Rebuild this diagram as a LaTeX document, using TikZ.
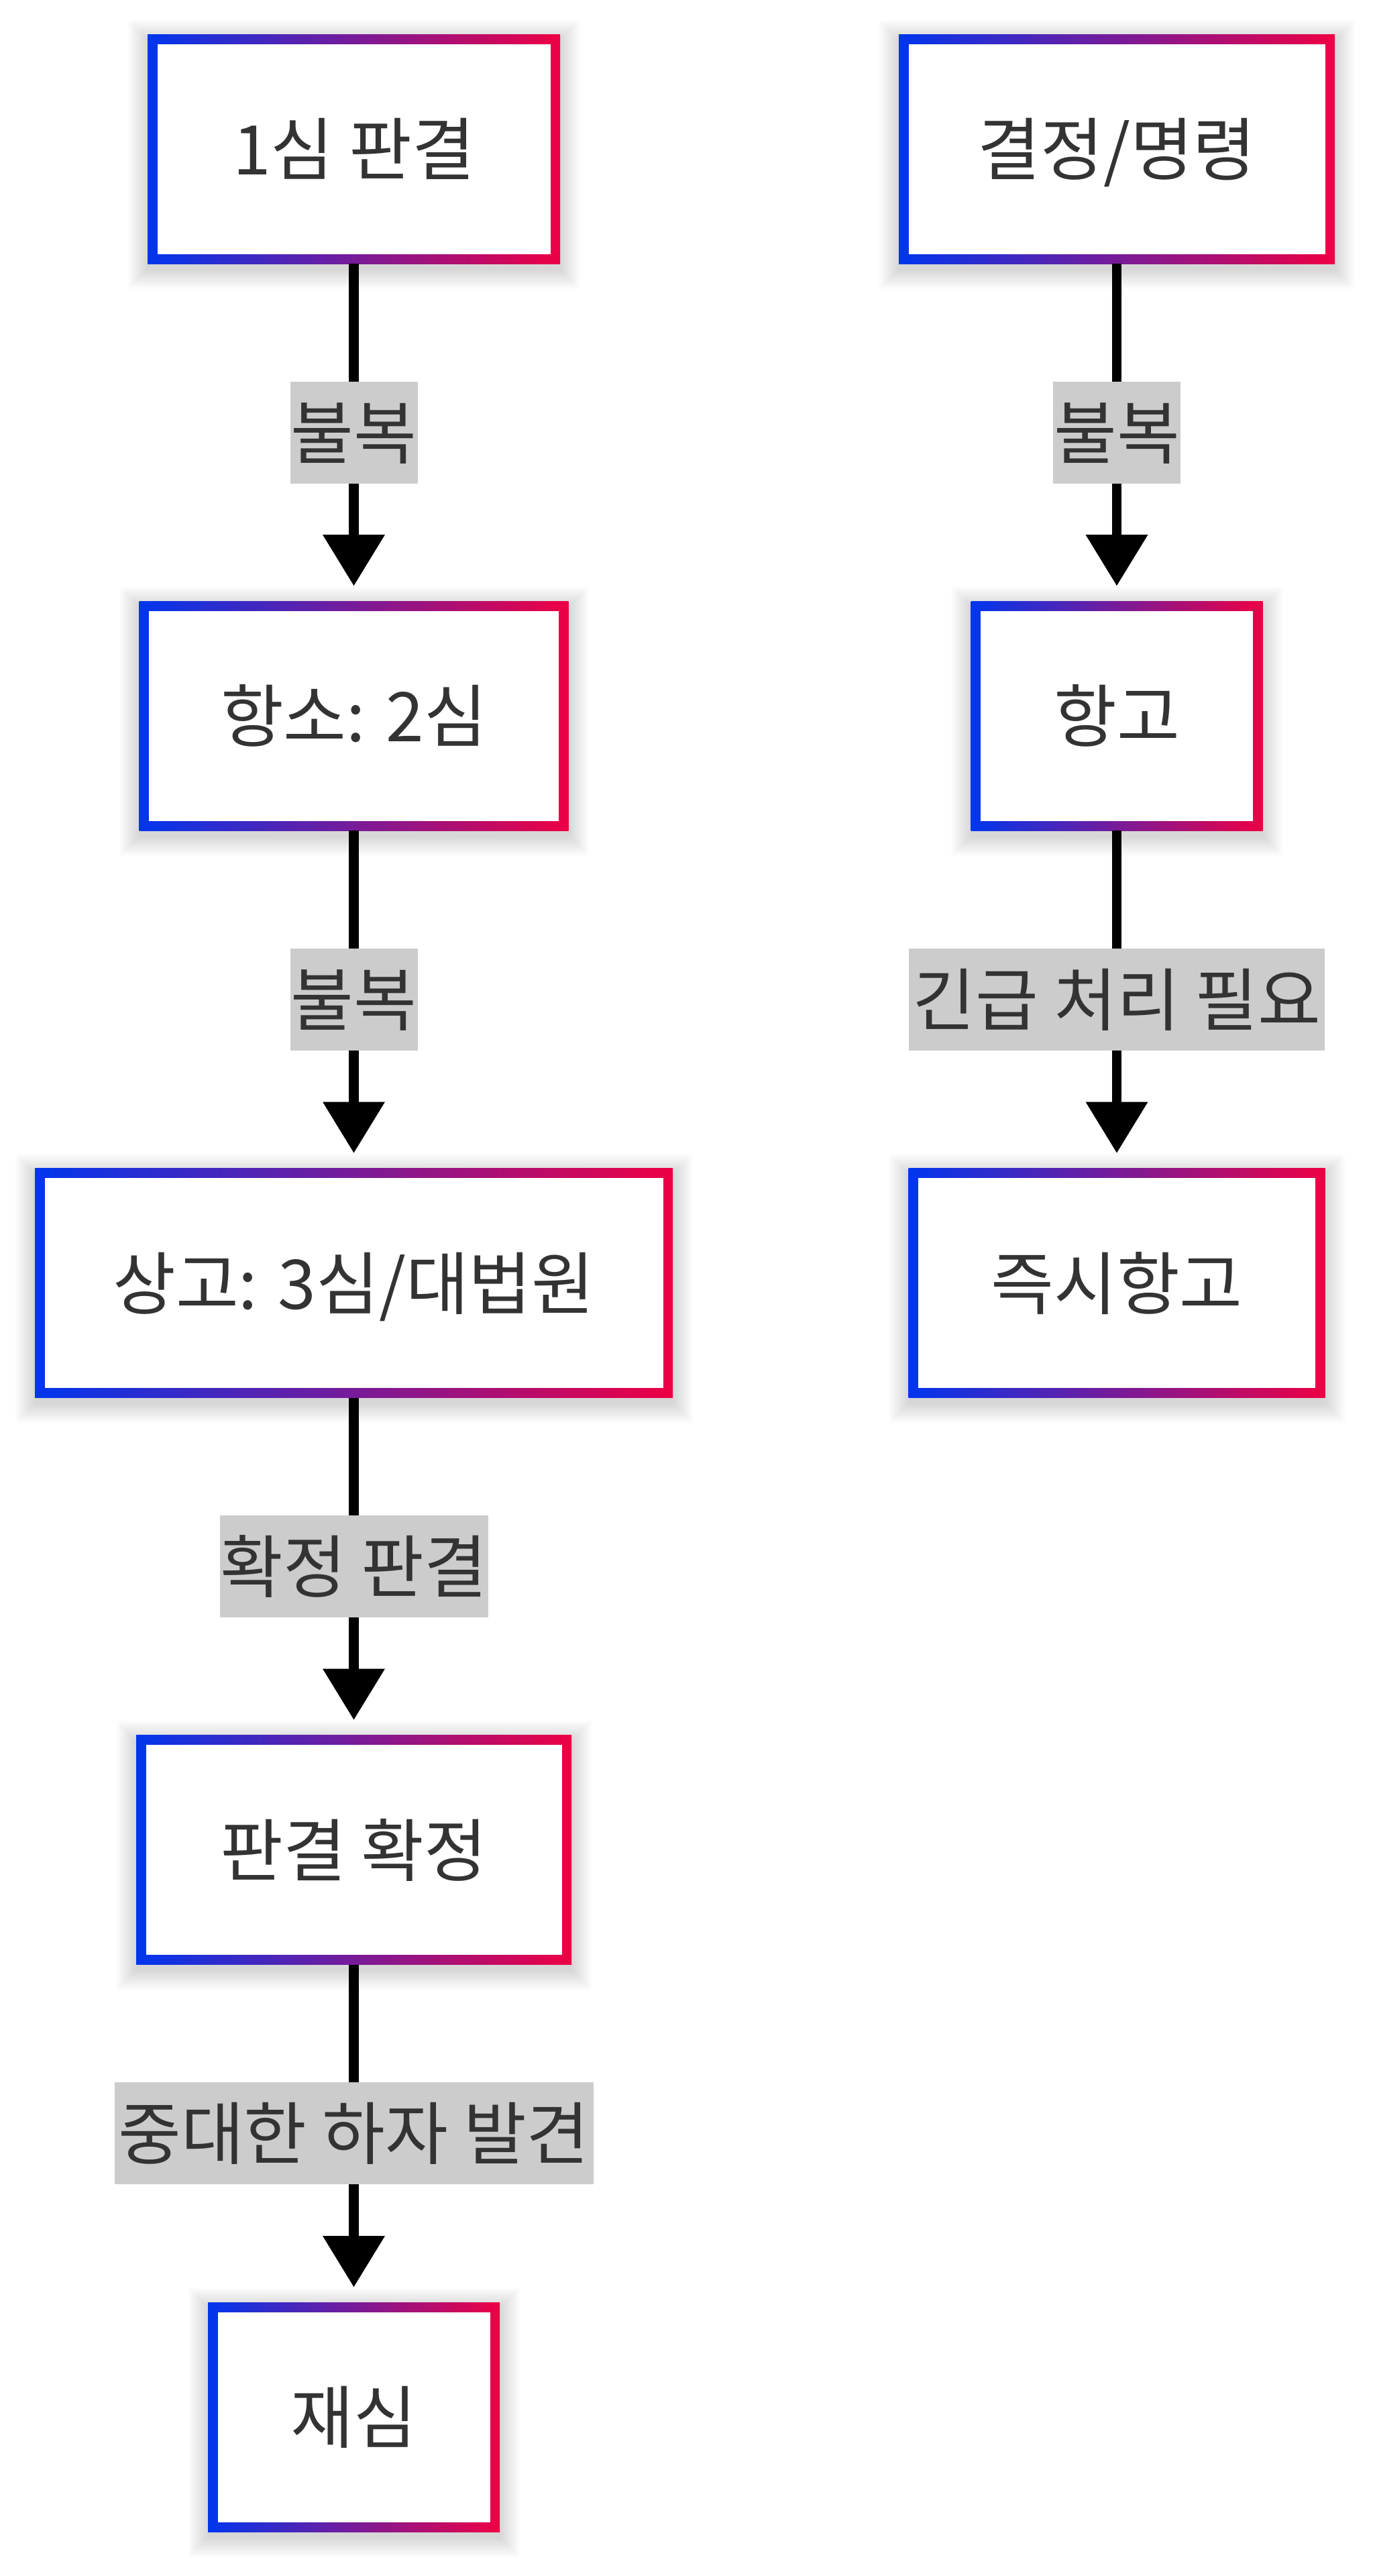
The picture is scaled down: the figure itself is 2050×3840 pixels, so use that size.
\documentclass[tikz,border=0pt]{standalone}
\usepackage{fontspec}
\newfontfamily\kr{Noto Sans CJK KR}
\usetikzlibrary{arrows.meta,backgrounds}
\definecolor{cblue}{RGB}{0,54,238}
\definecolor{cred}{RGB}{238,0,68}
\definecolor{txt}{HTML}{333333}
\definecolor{lblgray}{HTML}{CCCCCC}
\tikzset{
  gbox/.style={minimum width=#1, minimum height=171pt, inner sep=0pt, outer sep=0pt,
    font=\kr\fontsize{51pt}{61pt}\selectfont, text=txt, text height=41.5pt, text depth=3pt,
    path picture={
      \shade[left color=cblue, right color=cred] (path picture bounding box.south west) rectangle (path picture bounding box.north east);
      \fill[white] ([xshift=7.25pt,yshift=7.25pt]path picture bounding box.south west) rectangle ([xshift=-7.25pt,yshift=-7.25pt]path picture bounding box.north east);
    }},
  lbl/.style={fill=lblgray, minimum width=#1, minimum height=76pt, inner xsep=0pt, inner ysep=0pt,
    font=\kr\fontsize{51pt}{61pt}\selectfont, text=txt, text height=41.5pt, text depth=3pt},
  arr/.style={draw=black, line width=7.25pt, -{Triangle[width=46.5pt,length=38pt,line width=0pt]}, shorten >=11.5pt},
}
\begin{document}
\begin{tikzpicture}[x=0.5pt,y=-0.5pt]
\useasboundingbox (0,0) rectangle (2050,3840);
% boxes
\node[gbox=307.5pt] (b1) at (527.5,222) {1심 판결};
\node[gbox=325pt]   (b2) at (1665,222) {결정/명령};
\node[gbox=320pt]   (b3) at (527.5,1067) {항소: 2심};
\node[gbox=217.5pt] (b4) at (1665,1067) {항고};
\node[gbox=475.5pt] (b5) at (527.5,1912.5) {상고: 3심/대법원};
\node[gbox=310.5pt] (b6) at (1665,1912.5) {즉시항고};
\node[gbox=324.5pt] (b7) at (527.5,2757.5) {판결 확정};
\node[gbox=217.5pt] (b8) at (527.5,3603) {재심};
% connectors
\draw[arr] (b1) -- node[lbl=95pt] (l1) {불복} (b3);
\draw[arr] (b3) -- node[lbl=95pt] (l2) {불복} (b5);
\draw[arr] (b5) -- node[lbl=200pt] (l3) {확정 판결} (b7);
\draw[arr] (b7) -- node[lbl=357pt] (l4) {중대한 하자 발견} (b8);
\draw[arr] (b2) -- node[lbl=95pt] (l5) {불복} (b4);
\draw[arr] (b4) -- node[lbl=310pt] (l6) {긴급 처리 필요} (b6);
% background and soft shadows
\begin{scope}[on background layer]
\fill[white] (0,0) rectangle (2050,3840);
\foreach \n in {b1,b2,b3,b4,b5,b6,b7,b8}{
  \foreach \i in {1,...,20}{
    \fill[black, opacity=0.007] ([shift={(-\i*0.75pt,-\i*0.75pt-4pt)}]\n.south west) rectangle ([shift={(\i*0.75pt,\i*0.75pt-4pt)}]\n.north east);
  }
}
\end{scope}
\end{tikzpicture}
\end{document}
